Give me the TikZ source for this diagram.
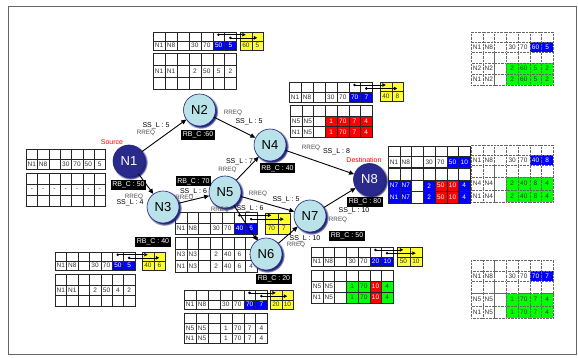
\documentclass[tikz,border=0pt]{standalone}
\usepackage{fontspec}
\setmainfont{Liberation Sans}
\usetikzlibrary{arrows.meta,shadows}
\definecolor{cW}{HTML}{FFFFFF}
\definecolor{cK}{HTML}{333333}
\definecolor{cB}{HTML}{0000FF}
\definecolor{cR}{HTML}{FF0000}
\definecolor{cG}{HTML}{00FF00}
\definecolor{cY}{HTML}{FFFF33}
\definecolor{nlight}{HTML}{B9E3E9}
\definecolor{ndark}{HTML}{2A2A8C}
\definecolor{nshadow}{HTML}{23237A}
\tikzset{
  cell/.style={draw=black!85, line width=0.4pt, inner sep=0pt, anchor=north west, font=\fontsize{6.5}{7}\selectfont},
  dcell/.style={cell, draw=black!60, densely dotted},
  ptr/.style={line width=0.5pt, -{Triangle[length=3.5pt,width=3.5pt]}},
  netnode/.style={circle, minimum size=32pt, inner sep=0pt, draw=nshadow, line width=0.6pt,
     font=\fontsize{13}{13}\selectfont,
     circular drop shadow={shadow xshift=1.2pt, shadow yshift=-1.2pt, fill=nshadow, opacity=1}},
  lightnode/.style={netnode, fill=nlight, text=black},
  darknode/.style={netnode, fill=ndark, text=white},
  edge/.style={line width=0.9pt, -{Triangle[length=5pt,width=4.5pt]}},
  sslab/.style={font=\fontsize{7}{7}\selectfont, text=black, inner sep=0pt},
  rrlab/.style={font=\fontsize{6.3}{6.3}\selectfont, text=black!70, inner sep=0pt},
  rbbox/.style={fill=black, text=white, font=\fontsize{7}{7}\selectfont, inner sep=1.5pt, minimum height=10pt},
  redlab/.style={font=\fontsize{7}{7}\selectfont, text=red, inner sep=0pt},
}
\newcommand{\trow}[7]{%
  \foreach \s/\f/\t [count=\i from 0] in {#7} {
    \node[#6, fill=\f, text=\t, minimum width=#4pt, minimum height=#5pt] (#1-\i) at ({#2+\i*#4},#3) {\s};
  }}
\newcommand{\erow}[6]{\trow{#1}{#2}{#3}{#4}{#5}{#6}{/cW/cK,/cW/cK,/cW/cK,/cW/cK,/cW/cK,/cW/cK,/cW/cK}}
\newcommand{\yrow}[5]{\trow{#1}{#2}{#3}{#4}{#5}{cell}{/cY/cK,/cY/cK}}
\newcommand{\ptrs}[7]{%
  \coordinate (#1-d1) at ({#2+5.5*#4},{#3+0.3*#5});
  \coordinate (#1-d2) at ({#2+6.5*#4},{#3+0.65*#5});
  \coordinate (#1-t1) at ({#6+0.5*#7},{#3+0.3*#5});
  \coordinate (#1-t2) at ({#6+1.5*#7},{#3+0.65*#5});
  \fill (#1-d1) circle (1.4pt);
  \fill (#1-d2) circle (1.4pt);
  \draw[ptr] (#1-d1) -- (#1-t1);
  \draw[ptr] (#1-d2) -- (#1-t2);}
\begin{document}
\begin{tikzpicture}[x=1pt,y=-1pt]
\useasboundingbox (0,0) rectangle (578,358);
\fill[white] (0,0) rectangle (578,358);
% frame
\draw[black!60, line width=1pt] (8,7) rectangle (576.5,354);

% ---- Table A (top, N2)
\erow{A0}{153}{32}{11.9}{9}{cell}
\trow{A1}{153}{41}{11.9}{9}{cell}{N1/cW/cK,N8/cW/cK,/cW/cK,30/cW/cK,70/cW/cK,50/cB/cW,5/cB/cW}
\yrow{Ay0}{240}{32}{11.5}{9}
\trow{Ay1}{240}{41}{11.5}{9}{cell}{60/cY/cK,5/cY/cK}
\erow{Al0}{153}{53}{11.9}{12}{cell}
\trow{Al1}{153}{65}{11.9}{12}{cell}{N1/cW/cK,N1/cW/cK,/cW/cK,2/cW/cK,50/cW/cK,5/cW/cK,2/cW/cK}
\erow{Al2}{153}{77}{11.9}{12}{cell}
\ptrs{A}{153}{32}{11.9}{9}{240}{11.5}

% ---- Table B (N1)
\erow{B0}{26}{149}{11.3}{10}{cell}
\trow{B1}{26}{159}{11.3}{10}{cell}{N1/cW/cK,N8/cW/cK,/cW/cK,30/cW/cK,70/cW/cK,50/cW/cK,5/cW/cK}
\erow{Bl0}{26}{173}{11.3}{11}{cell}
\trow{Bl1}{26}{184}{11.3}{11}{cell}{-/cW/cK,-/cW/cK,-/cW/cK,-/cW/cK,-/cW/cK,-/cW/cK,-/cW/cK}
\erow{Bl2}{26}{195}{11.3}{11}{cell}

% ---- Table C (N3)
\erow{C0}{55}{252}{11.4}{9}{cell}
\trow{C1}{55}{261}{11.4}{9}{cell}{N1/cW/cK,N8/cW/cK,/cW/cK,30/cW/cK,70/cW/cK,50/cB/cW,5/cB/cW}
\yrow{Cy0}{142}{252}{11.5}{9}
\trow{Cy1}{142}{261}{11.5}{9}{cell}{40/cY/cK,6/cY/cK}
\erow{Cl0}{55}{274}{11.4}{10.7}{cell}
\trow{Cl1}{55}{284.7}{11.4}{10.7}{cell}{N1/cW/cK,N1/cW/cK,/cW/cK,2/cW/cK,50/cW/cK,4/cW/cK,2/cW/cK}
\erow{Cl2}{55}{295.4}{11.4}{10.7}{cell}
\ptrs{C}{55}{252}{11.4}{9}{142}{11.5}

% ---- Table D (N5)
\erow{D0}{175}{212}{11.7}{11}{cell}
\trow{D1}{175}{223}{11.7}{11}{cell}{N1/cW/cK,N8/cW/cK,/cW/cK,30/cW/cK,70/cW/cK,40/cB/cW,6/cB/cW}
\yrow{Dy0}{265}{213.5}{12.5}{10}
\trow{Dy1}{265}{223.5}{12.5}{10}{cell}{70/cY/cK,7/cY/cK}
\erow{Dl0}{175}{237}{11.7}{11.5}{cell}
\trow{Dl1}{175}{248.5}{11.7}{11.5}{cell}{N3/cW/cK,N3/cW/cK,/cW/cK,2/cW/cK,40/cW/cK,6/cW/cK,4/cW/cK}
\trow{Dl2}{175}{260}{11.7}{11.5}{cell}{N1/cW/cK,N3/cW/cK,/cW/cK,2/cW/cK,40/cW/cK,6/cW/cK,4/cW/cK}
\ptrs{D}{175}{212}{11.7}{11}{265}{12.5}

% ---- Table E (N6)
\erow{E0}{184}{290}{11.9}{9.5}{cell}
\trow{E1}{184}{299.5}{11.9}{9.5}{cell}{N1/cW/cK,N8/cW/cK,/cW/cK,30/cW/cK,70/cW/cK,70/cB/cW,7/cB/cW}
\yrow{Ey0}{270}{290}{11.5}{9.5}
\trow{Ey1}{270}{299.5}{11.5}{9.5}{cell}{20/cY/cK,10/cY/cK}
\erow{El0}{184}{313}{11.9}{10}{cell}
\trow{El1}{184}{323}{11.9}{10}{cell}{N5/cW/cK,N5/cW/cK,/cW/cK,1/cW/cK,70/cW/cK,7/cW/cK,4/cW/cK}
\trow{El2}{184}{333}{11.9}{10}{cell}{N1/cW/cK,N5/cW/cK,/cW/cK,1/cW/cK,70/cW/cK,7/cW/cK,4/cW/cK}
\ptrs{E}{184}{290}{11.9}{9.5}{270}{11.5}

% ---- Table F (N4)
\erow{F0}{289}{82}{11.9}{10}{cell}
\trow{F1}{289}{92}{11.9}{10}{cell}{N1/cW/cK,N8/cW/cK,/cW/cK,30/cW/cK,70/cW/cK,70/cB/cW,7/cB/cW}
\yrow{Fy0}{380}{82}{11.5}{9.5}
\trow{Fy1}{380}{91.5}{11.5}{9.5}{cell}{40/cY/cK,8/cY/cK}
\erow{Fl0}{290}{105}{11.7}{10.7}{cell}
\trow{Fl1}{290}{115.7}{11.7}{10.7}{cell}{N5/cW/cK,N5/cW/cK,/cW/cK,1/cR/cW,70/cR/cW,7/cR/cW,4/cR/cW}
\trow{Fl2}{290}{126.4}{11.7}{10.7}{cell}{N1/cW/cK,N5/cW/cK,/cW/cK,1/cR/cW,70/cR/cW,7/cR/cW,4/cR/cW}
\ptrs{F}{289}{82}{11.9}{10}{380}{11.5}

% ---- Table G (N8)
\erow{G0}{388}{146}{11.7}{10.5}{cell}
\trow{G1}{388}{156.5}{11.7}{10.5}{cell}{N1/cW/cK,N8/cW/cK,/cW/cK,30/cW/cK,70/cW/cK,50/cB/cW,10/cB/cW}
\erow{Gl0}{388}{168}{11.7}{11.7}{cell}
\trow{Gl1}{388}{179.7}{11.7}{11.7}{cell}{N7/cB/cW,N7/cB/cW,/cW/cK,2/cB/cW,50/cR/cW,10/cR/cW,4/cB/cW}
\trow{Gl2}{388}{191.4}{11.7}{11.7}{cell}{N1/cB/cW,N7/cB/cW,/cW/cK,2/cB/cW,50/cR/cW,10/cR/cW,4/cB/cW}

% ---- Table H (N7)
\erow{H0}{311}{247}{11.7}{9.5}{cell}
\trow{H1}{311}{256.5}{11.7}{9.5}{cell}{N1/cW/cK,N8/cW/cK,/cW/cK,30/cW/cK,70/cW/cK,20/cB/cW,10/cB/cW}
\yrow{Hy0}{397}{247}{12.5}{9.5}
\trow{Hy1}{397}{256.5}{12.5}{9.5}{cell}{50/cY/cK,10/cY/cK}
\erow{Hl0}{311}{270}{11.7}{11}{cell}
\trow{Hl1}{311}{281}{11.7}{11}{cell}{N5/cW/cK,N5/cW/cK,/cW/cK,1/cG/cK,70/cG/cK,10/cR/cW,4/cG/cK}
\trow{Hl2}{311}{292}{11.7}{11}{cell}{N1/cW/cK,N5/cW/cK,/cW/cK,1/cG/cK,70/cG/cK,10/cR/cW,4/cG/cK}
\ptrs{H}{311}{247}{11.7}{9.5}{397}{12.5}

% ---- Right dotted tables
\erow{R10}{471}{32}{11.7}{10}{dcell}
\trow{R11}{471}{42}{11.7}{10}{dcell}{N1/cW/cK,N8/cW/cK,/cW/cK,30/cW/cK,70/cW/cK,60/cB/cW,5/cB/cW}
\erow{R1l0}{471}{52}{11.7}{11}{dcell}
\trow{R1l1}{471}{63}{11.7}{11}{dcell}{N2/cW/cK,N2/cW/cK,/cW/cK,2/cG/cK,60/cG/cK,5/cG/cK,2/cG/cK}
\trow{R1l2}{471}{74}{11.7}{11}{dcell}{N1/cW/cK,N2/cW/cK,/cW/cK,2/cG/cK,60/cG/cK,5/cG/cK,2/cG/cK}

\erow{R20}{471}{145}{11.7}{10}{dcell}
\trow{R21}{471}{155}{11.7}{10}{dcell}{N1/cW/cK,N8/cW/cK,/cW/cK,30/cW/cK,70/cW/cK,40/cB/cW,8/cB/cW}
\erow{R2l0}{471}{165}{11.7}{12.3}{dcell}
\trow{R2l1}{471}{177.3}{11.7}{12.3}{dcell}{N4/cW/cK,N4/cW/cK,/cW/cK,2/cG/cK,40/cG/cK,8/cG/cK,4/cG/cK}
\trow{R2l2}{471}{189.6}{11.7}{12.3}{dcell}{N1/cW/cK,N4/cW/cK,/cW/cK,2/cG/cK,40/cG/cK,8/cG/cK,4/cG/cK}

\erow{R30}{471}{260}{11.7}{10.5}{dcell}
\trow{R31}{471}{270.5}{11.7}{10.5}{dcell}{N1/cW/cK,N8/cW/cK,/cW/cK,30/cW/cK,70/cW/cK,70/cB/cW,7/cB/cW}
\erow{R3l0}{471}{281}{11.7}{12.3}{dcell}
\trow{R3l1}{471}{293.3}{11.7}{12.3}{dcell}{N5/cW/cK,N5/cW/cK,/cW/cK,1/cG/cK,70/cG/cK,7/cG/cK,4/cG/cK}
\trow{R3l2}{471}{305.6}{11.7}{12.3}{dcell}{N1/cW/cK,N5/cW/cK,/cW/cK,1/cG/cK,70/cG/cK,7/cG/cK,4/cG/cK}

% ---- network nodes
\node[darknode]  (N1) at (129,161) {N1};
\node[lightnode] (N2) at (199.5,110) {N2};
\node[lightnode] (N3) at (163,207) {N3};
\node[lightnode] (N4) at (270,145) {N4};
\node[lightnode] (N5) at (225,192) {N5};
\node[lightnode] (N6) at (266,254) {N6};
\node[lightnode] (N7) at (310,216) {N7};
\node[darknode]  (N8) at (369.5,179.5) {N8};

% ---- edges
\draw[edge] (N1) -- (N2);
\draw[edge] (N1) -- (N3);
\draw[edge] (N2) -- (N4);
\draw[edge] (N3) -- (N5);
\draw[edge] (N5) -- (N4);
\draw[edge] (N5) -- (N7);
\draw[edge] (N5) -- (N6);
\draw[edge] (N6) -- (N7);
\draw[edge] (N4) -- (N8);
\draw[edge] (N7) -- (N8);

% ---- labels
\node[redlab] (src) at (112,142) {Source};
\node[redlab] (dst) at (364,160) {Destination};

\node[rbbox] (rb1) at (128.5,185) {RB\_C : 50};
\node[rbbox] (rb2) at (198,135) {RB\_C :60};
\node[rbbox] (rb3) at (153,242) {RB\_C : 40};
\node[rbbox] (rb4) at (277.5,168.5) {RB\_C : 40};
\node[rbbox] (rb5) at (193.5,181.5) {RB\_C : 70};
\node[rbbox] (rb6) at (274,279) {RB\_C : 20};
\node[rbbox] (rb7) at (347,235.5) {RB\_C : 50};
\node[rbbox] (rb8) at (365,202) {RB\_C : 80};

\node[sslab] (s12) at (156,126) {SS\_L : 5};
\node[rrlab] (r12) at (146,133) {RREQ};
\node[rrlab] (r13) at (134,196.5) {RREQ};
\node[sslab] (s13) at (130,203) {SS\_L : 4};
\node[rrlab] (r24) at (233,113) {RREQ};
\node[sslab] (s24) at (249,122) {SS\_L : 5};
\node[sslab] (s35) at (193.5,191.5) {SS\_L : 6};
\node[rrlab] (r35) at (184.5,197.5) {RREQ};
\node[sslab] (s54) at (239.5,161.5) {SS\_L : 7};
\node[rrlab] (r54) at (227.5,169.5) {RREQ};
\node[rrlab] (r57) at (258,193.5) {RREQ};
\node[sslab] (s57) at (286,199.5) {SS\_L : 5};
\node[rrlab] (r56) at (220,209.5) {RREQ};
\node[sslab] (s56) at (250,208.5) {SS\_L : 6};
\node[sslab] (s67) at (305,239) {SS\_L : 10};
\node[rrlab] (r67) at (296,245) {RREQ};
\node[rrlab] (r48) at (311,147.5) {RREQ};
\node[sslab] (s48) at (336.5,152) {SS\_L : 8};
\node[sslab] (s78) at (354,210.5) {SS\_L : 10};
\node[rrlab] (r78) at (338,219.5) {RREQ};
\end{tikzpicture}
\end{document}
